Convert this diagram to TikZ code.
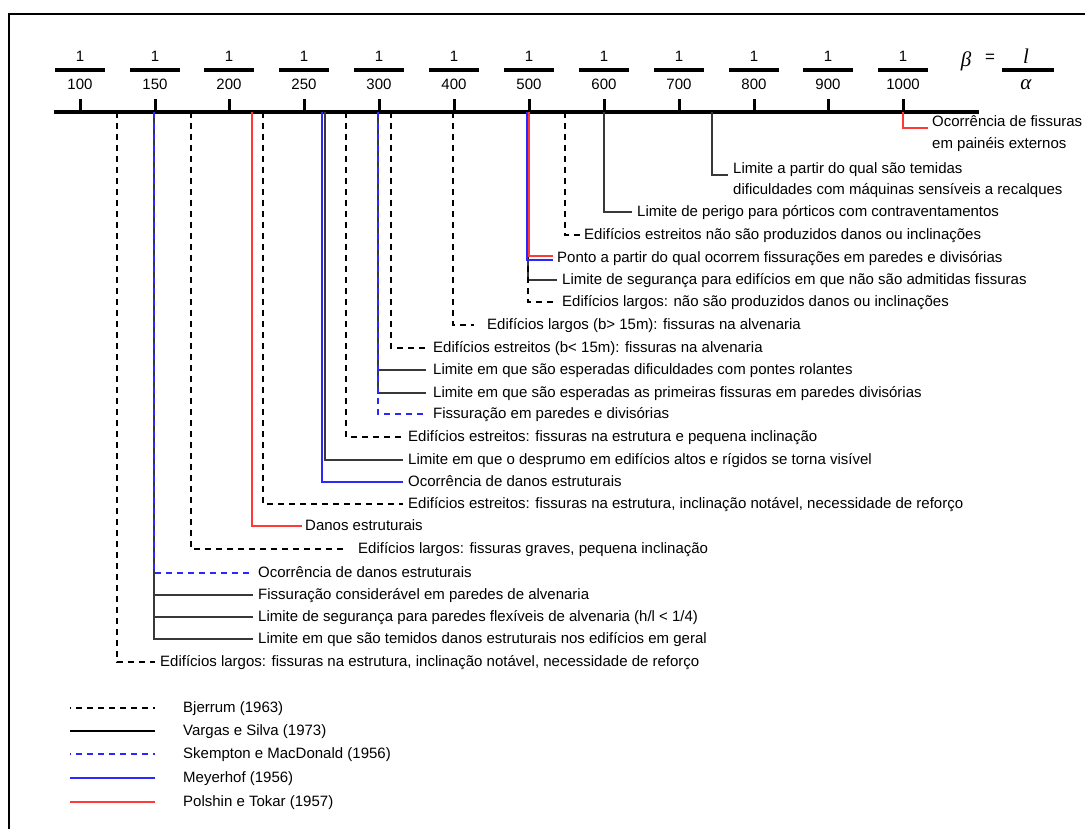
\documentclass[tikz,border=0pt]{standalone}
\usepackage{fontspec}
\setmainfont{Liberation Sans}
\newfontfamily\timesit[Scale=1]{Liberation Serif}
\usetikzlibrary{calc}
\definecolor{vsgray}{HTML}{383838}
\definecolor{myblue}{HTML}{2828FF}
\definecolor{myred}{HTML}{FF3838}
\tikzset{
  bj/.style={black, line width=1.3pt, dash pattern=on 6pt off 5pt},
  vs/.style={vsgray, line width=1.5pt},
  sk/.style={myblue, line width=1.4pt, dash pattern=on 6pt off 5pt},
  me/.style={myblue, line width=1.5pt},
  po/.style={myred, line width=1.5pt},
  lbl/.style={anchor=west, inner sep=0pt, text height=10.5pt, text depth=2pt, font=\fontsize{15}{17}\selectfont},
  num/.style={inner sep=0pt, font=\fontsize{15}{17}\selectfont},
  greek/.style={inner sep=0pt, font=\timesit\itshape\fontsize{21}{22}\selectfont},
  bar/.style={black, line width=3.2pt},
}
\begin{document}
\begin{tikzpicture}[x=1pt,y=-1pt]
\useasboundingbox (0,0) rectangle (1085,829);
% frame
\draw[black, line width=2pt] (9,829) -- (9,14) -- (1085,14);
% axis
\coordinate (axL) at (54,112);
\coordinate (axR) at (979,112);
\draw[black, line width=4.5pt] (axL) -- (axR);
% ticks and fractions
\foreach \x/\d in {80/100,155/150,229/200,304/250,379/300,454/400,529/500,604/600,679/700,754/800,828/900,903/1000}{
  \draw[black, line width=3pt] (\x,112) -- (\x,99);
  \draw[bar] (\x-25,70) -- (\x+25,70);
  \node[num] (n\d) at (\x,56) {1};
  \node[num] (d\d) at (\x,84) {\d};
}
% beta = l / alpha
\node[greek] (beta) at (966,61) {β};
\node[inner sep=0pt, font=\fontsize{17}{18}\selectfont] (eq) at (990,58) {=};
\draw[bar] (1002,70) -- (1054,70);
\node[greek] (ll) at (1026,56) {l};
\node[greek] (al) at (1026,85) {α};

% axis anchor points
\foreach \x in {117,154,191,252,263,322,325,346,378,391,453,527,528,529,565,604,712,903}{
  \coordinate (a\x) at (\x,112);
}

% labels
\node[lbl] (t1a) at (932,122) {Ocorrência de fissuras};
\node[lbl] (t1b) at (932,144) {em painéis externos};
\node[lbl] (t2a) at (733,169) {Limite a partir do qual são temidas};
\node[lbl] (t2b) at (733,190) {dificuldades com máquinas sensíveis a recalques};
\node[lbl] (t3) at (637,212) {Limite de perigo para pórticos com contraventamentos};
\node[lbl] (t4) at (584,235) {Edifícios estreitos não são produzidos danos ou inclinações};
\node[lbl] (t5) at (557,258) {Ponto a partir do qual ocorrem fissurações em paredes e divisórias};
\node[lbl] (t6) at (562,280) {Limite de segurança para edifícios em que não são admitidas fissuras};
\node[lbl] (t7) at (562,302) {Edifícios largos: não são produzidos danos ou inclinações};
\node[lbl] (t8) at (487,325) {Edifícios largos (b> 15m): fissuras na alvenaria};
\node[lbl] (t9) at (433,348) {Edifícios estreitos (b< 15m): fissuras na alvenaria};
\node[lbl] (t10) at (433,370) {Limite em que são esperadas dificuldades com pontes rolantes};
\node[lbl] (t11) at (433,393) {Limite em que são esperadas as primeiras fissuras em paredes divisórias};
\node[lbl] (t12) at (433,414) {Fissuração em paredes e divisórias};
\node[lbl] (t13) at (408,437) {Edifícios estreitos: fissuras na estrutura e pequena inclinação};
\node[lbl] (t14) at (408,460) {Limite em que o desprumo em edifícios altos e rígidos se torna visível};
\node[lbl] (t15) at (408,482) {Ocorrência de danos estruturais};
\node[lbl] (t16) at (408,504) {Edifícios estreitos: fissuras na estrutura, inclinação notável, necessidade de reforço};
\node[lbl] (t17) at (305,526) {Danos estruturais};
\node[lbl] (t18) at (358,549) {Edifícios largos: fissuras graves, pequena inclinação};
\node[lbl] (t19) at (258,573) {Ocorrência de danos estruturais};
\node[lbl] (t20) at (258,595) {Fissuração considerável em paredes de alvenaria};
\node[lbl] (t21) at (258,617) {Limite de segurança para paredes flexíveis de alvenaria (h/l < 1/4)};
\node[lbl] (t22) at (258,639) {Limite em que são temidos danos estruturais nos edifícios em geral};
\node[lbl] (t23) at (160,662) {Edifícios largos: fissuras na estrutura, inclinação notável, necessidade de reforço};

% Vargas e Silva (solid dark)
\draw[vs] (a712) |- ([xshift=-5pt,yshift=-6pt]t2a.west);
\draw[vs] (a604) |- ([xshift=-5pt]t3.west);
\draw[vs] (a528) |- ([xshift=-5pt]t6.west);
\draw[vs] (a378) |- ([xshift=-7pt]t10.west);
\draw[vs] (a378) |- ([xshift=-7pt]t11.west);
\draw[vs] (a325) |- ([xshift=-5pt]t14.west);
\draw[vs] (a154) |- ([xshift=-5pt]t20.west);
\draw[vs] (a154) |- ([xshift=-5pt]t21.west);
\draw[vs] (a154) |- ([xshift=-5pt]t22.west);
% Bjerrum (dashed black)
\draw[bj] (a565) |- ([xshift=-4pt]t4.west);
\draw[bj] (a528) |- ([xshift=-6pt]t7.west);
\draw[bj] (a453) |- ([xshift=-13pt]t8.west);
\draw[bj] (a391) |- ([xshift=-8pt]t9.west);
\draw[bj] (a346) |- ([xshift=-5pt]t13.west);
\draw[bj] (a263) |- ([xshift=-5pt]t16.west);
\draw[bj] (a191) |- ([xshift=-13pt]t18.west);
\draw[bj] (a117) |- ([xshift=-5pt]t23.west);
% Skempton e MacDonald (dashed blue)
\draw[sk] (a378) |- ([xshift=-6pt]t12.west);
\draw[sk] (a154) |- ([xshift=-9pt]t19.west);
% Meyerhof (solid blue)
\draw[me] (a527) |- ([xshift=-4pt,yshift=-2pt]t5.west);
\draw[me] (a322) |- ([xshift=-5pt]t15.west);
% Polshin e Tokar (solid red)
\draw[po] (a529) |- ([xshift=-4pt,yshift=2pt]t5.west);
\draw[po] (a252) |- ([xshift=-3pt]t17.west);
\draw[po] (a903) |- ([xshift=-4pt,yshift=-6pt]t1a.west);

% legend
\node[lbl] (lg1) at (183,708) {Bjerrum (1963)};
\node[lbl] (lg2) at (183,731) {Vargas e Silva (1973)};
\node[lbl] (lg3) at (183,754) {Skempton e MacDonald (1956)};
\node[lbl] (lg4) at (183,778) {Meyerhof (1956)};
\node[lbl] (lg5) at (183,802) {Polshin e Tokar (1957)};
\draw[bj, dash pattern=on 1pt off 5pt on 6pt off 5pt on 6pt off 5pt on 6pt off 5pt on 6pt off 5pt on 6pt off 5pt on 6pt off 5pt on 6pt off 5pt on 6pt off 5pt] ([xshift=-113pt]lg1.west) -- ([xshift=-28pt]lg1.west);
\draw[vs, black] ([xshift=-113pt]lg2.west) -- ([xshift=-28pt]lg2.west);
\draw[sk, dash pattern=on 1pt off 5pt on 6pt off 5pt on 6pt off 5pt on 6pt off 5pt on 6pt off 5pt on 6pt off 5pt on 6pt off 5pt on 6pt off 5pt on 6pt off 5pt] ([xshift=-113pt]lg3.west) -- ([xshift=-28pt]lg3.west);
\draw[me] ([xshift=-113pt]lg4.west) -- ([xshift=-28pt]lg4.west);
\draw[po, line width=2pt] ([xshift=-113pt]lg5.west) -- ([xshift=-28pt]lg5.west);
\end{tikzpicture}
\end{document}
